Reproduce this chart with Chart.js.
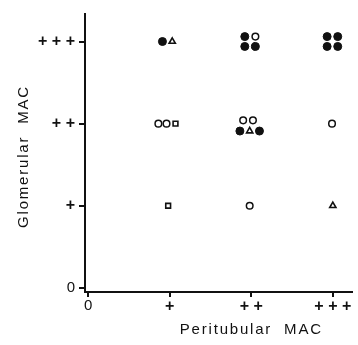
<!DOCTYPE html>
<html>
<head>
<meta charset="utf-8">
<script src="https://cdn.jsdelivr.net/npm/chart.js@4"></script>
<style>
  html, body { margin: 0; padding: 0; background: #fff; }
  #wrap { width: 358px; height: 345px; }
</style>
</head>
<body>
<div id="wrap"><canvas id="c"></canvas></div>
<script>
// grade labels used on both axes
const gradeLabels = ['0', '+', '+ +', '+ + +'];
const xTitle = 'Peritubular  MAC';
const yTitle = 'Glomerular  MAC';

// points per marker type (x = peritubular grade, y = glomerular grade, small offsets where symbols cluster)
const filledX = [0.91, 1.92, 1.92, 2.05, 2.93, 3.06, 2.93, 3.06, 1.86, 2.10];
const filledY = [3.00, 3.06, 2.94, 2.94, 3.06, 3.06, 2.94, 2.94, 1.91, 1.91];
const openX = [2.05, 0.86, 0.96, 1.90, 2.02, 2.99, 1.98];
const openY = [3.06, 2.00, 2.00, 2.04, 2.04, 2.00, 1.00];
const triX = [1.03, 1.98, 3.00];
const triY = [3.00, 1.91, 1.00];
const squareX = [1.07, 0.98];
const squareY = [2.00, 1.00];

const pts = (xs, ys) => xs.map((x, i) => ({ x: x, y: ys[i] }));

const fixedTicks = (scale) => {
  scale.ticks = [0, 1, 2, 3].map(v => ({ value: v }));
};

// "0" is a plain figure, the plus grades are heavier
const tickFont = (c) => {
  const zero = c.tick && c.tick.value === 0;
  return {
    family: '"Liberation Sans", Arial, sans-serif',
    size: zero ? 15 : 16,
    weight: zero ? 'normal' : 'bold',
  };
};

// letter spaced titles, drawn next to the axes
const axisTitles = {
  id: 'axisTitles',
  afterDraw(chart) {
    const ctx = chart.ctx;
    const xs = chart.scales.x;
    const ys = chart.scales.y;
    ctx.save();
    ctx.letterSpacing = '1.8px';
    ctx.fillStyle = '#111';
    ctx.font = '15px "Liberation Sans", Arial, sans-serif';
    ctx.textAlign = 'center';
    ctx.textBaseline = 'middle';
    ctx.fillText(xTitle, xs.getPixelForValue(2.0), 330);
    ctx.translate(24, ys.getPixelForValue(1.6));
    ctx.rotate(-Math.PI / 2);
    ctx.fillText(yTitle, 0, 0);
    ctx.restore();
  }
};

const ctx = document.getElementById('c').getContext('2d');
const myChart = new Chart(ctx, {
  type: 'scatter',
  data: {
    datasets: [
      {
        label: 'filled',
        data: pts(filledX, filledY),
        pointStyle: 'circle',
        pointRadius: 4,
        backgroundColor: '#111',
        borderColor: '#111',
        borderWidth: 1,
      },
      {
        label: 'open',
        data: pts(openX, openY),
        pointStyle: 'circle',
        pointRadius: 3.3,
        backgroundColor: '#fff',
        borderColor: '#111',
        borderWidth: 1.5,
      },
      {
        label: 'triangle',
        data: pts(triX, triY),
        pointStyle: 'triangle',
        pointRadius: 3.6,
        backgroundColor: '#fff',
        borderColor: '#111',
        borderWidth: 1.6,
      },
      {
        label: 'square',
        data: pts(squareX, squareY),
        pointStyle: 'rect',
        pointRadius: 3.4,
        backgroundColor: '#fff',
        borderColor: '#111',
        borderWidth: 1.6,
      },
    ],
  },
  options: {
    responsive: true,
    maintainAspectRatio: false,
    animation: false,
    events: [],
    layout: { padding: { left: 0, top: 10, right: 1, bottom: 0 } },
    plugins: {
      legend: { display: false },
      tooltip: { enabled: false },
    },
    scales: {
      x: {
        type: 'linear',
        min: -0.04,
        max: 3.24,
        afterBuildTicks: fixedTicks,
        afterFit: (s) => { s.height = 53; },
        border: { display: true, color: '#111', width: 2 },
        grid: { drawOnChartArea: false, drawTicks: true, tickLength: 5, color: '#111', lineWidth: 2 },
        ticks: {
          color: '#111',
          padding: 0,
          font: tickFont,
          callback: (v) => gradeLabels[v],
        },
      },
      y: {
        type: 'linear',
        min: -0.05,
        max: 3.34,
        afterBuildTicks: fixedTicks,
        afterFit: (s) => { s.width = 85; },
        border: { display: true, color: '#111', width: 2 },
        grid: { drawOnChartArea: false, drawTicks: true, tickLength: 6, color: '#111', lineWidth: 2 },
        ticks: {
          color: '#111',
          padding: 4,
          font: tickFont,
          callback: (v) => gradeLabels[v],
        },
      },
    },
  },
  plugins: [axisTitles],
});
</script>
</body>
</html>
